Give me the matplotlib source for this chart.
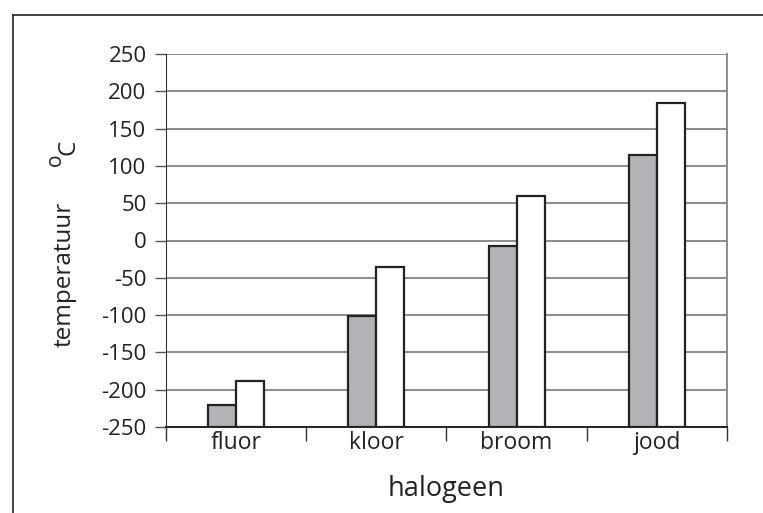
import matplotlib.pyplot as plt
import matplotlib.lines as mlines
import numpy as np

plt.rcParams['font.family'] = ['Open Sans', 'DejaVu Sans']

# gegevens
halogenen = ['fluor', 'kloor', 'broom', 'jood']
smeltpunt = [-220, -101, -7, 114]     # grijze staven
kookpunt = [-188, -35, 59, 184]       # witte staven
y_ticks = list(range(-250, 251, 50))

W, H = 763, 513
fig = plt.figure(figsize=(W / 100, H / 100), dpi=100)
ax = fig.add_axes([166 / W, 1 - 427 / H, (727 - 166) / W, (427 - 54) / H])

x = np.arange(len(halogenen))
bw = 0.2
ax.bar(x - bw / 2, np.array(smeltpunt) + 250, bw, bottom=-250, color='#b2b3b6',
       edgecolor='#222222', linewidth=1.6, zorder=3)
ax.bar(x + bw / 2, np.array(kookpunt) + 250, bw, bottom=-250, color='white',
       edgecolor='#222222', linewidth=1.6, zorder=3)

ax.set_xlim(-0.5, len(halogenen) - 0.5)
ax.set_ylim(-250, 250)
ax.set_yticks(y_ticks)
ax.set_yticklabels([str(v) for v in y_ticks], fontsize=16, color='#222222')
ax.yaxis.grid(True, color='#8c8c8c', linewidth=1.4, zorder=0)
ax.set_axisbelow(True)

# x-ticks tussen de categorieën
ax.set_xticks(np.arange(-0.5, len(halogenen)), minor=False)
ax.set_xticklabels([])
ax.tick_params(axis='x', length=10, width=1, color='#333333', direction='out')
ax.set_xticks(x, minor=True)
ax.set_xticklabels(halogenen, minor=True, fontsize=16.5, color='#222222')
ax.tick_params(axis='x', which='minor', length=0, pad=3)
ax.tick_params(axis='y', length=8, width=1, color='#555555', pad=6)

ax.spines['top'].set_visible(False)
ax.spines['right'].set_color('#8c8c8c')
ax.spines['right'].set_linewidth(1.4)
ax.spines['left'].set_color('#333333')
ax.spines['bottom'].set_color('#222222')
ax.spines['bottom'].set_linewidth(1.4)

# aslabels
fig.text(446 / W, 1 - 489 / H, 'halogeen', fontsize=19.5, ha='center', va='center',
         color='#222222')
fig.text(65 / W, 1 - 274 / H, 'temperatuur', fontsize=17.5, rotation=90,
         ha='center', va='center', color='#222222')
fig.text(68 / W, 1 - 147 / H, 'C', fontsize=17.5, rotation=90,
         ha='center', va='center', color='#222222')
fig.text(55 / W, 1 - 160 / H, 'o', fontsize=15, rotation=90,
         ha='center', va='center', color='#222222')

# kader rond de figuur
fig.add_artist(mlines.Line2D([13 / W, 13 / W], [0, 1 - 15 / H], color='#222222',
                             linewidth=1.2, transform=fig.transFigure))
fig.add_artist(mlines.Line2D([13 / W, 1], [1 - 15 / H, 1 - 15 / H], color='#222222',
                             linewidth=1.2, transform=fig.transFigure))

fig.savefig('out.png', dpi=100)
